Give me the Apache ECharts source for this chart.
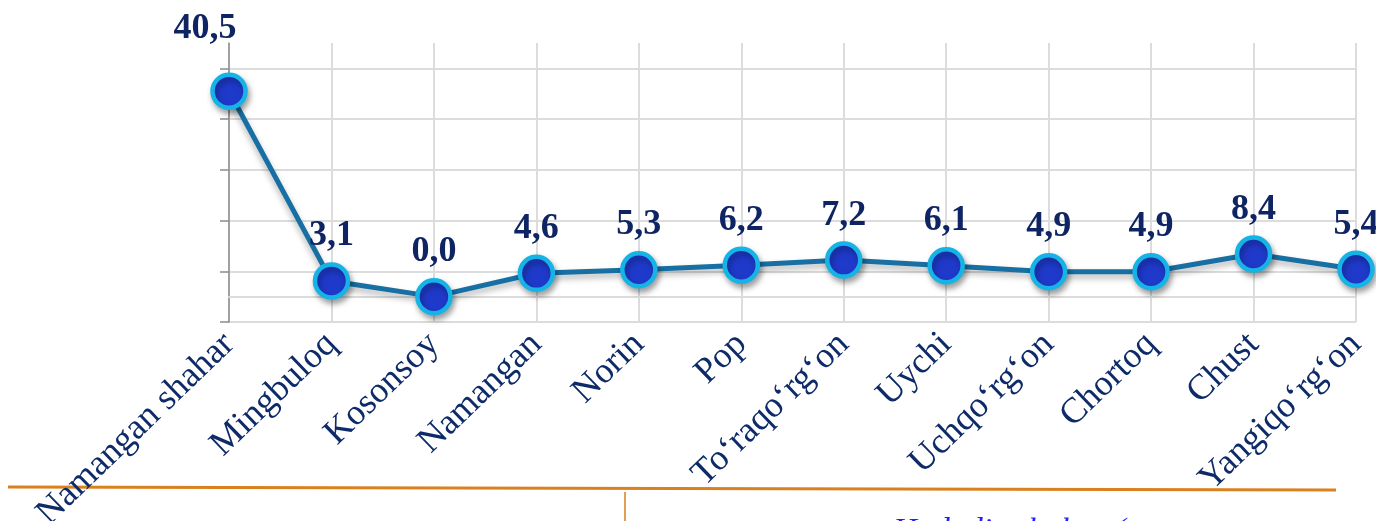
<!DOCTYPE html>
<html>
<head>
<meta charset="utf-8">
<script src="https://cdn.jsdelivr.net/npm/echarts@6/dist/echarts.min.js"></script>
<style>
html,body{margin:0;padding:0;background:#fff;}
#chart{width:1376px;height:521px;}
</style>
</head>
<body>
<div id="chart"></div>
<script>
const categories = ['Namangan shahar','Mingbuloq','Kosonsoy','Namangan','Norin','Pop','To\u2018raqo\u2018rg\u2018on','Uychi','Uchqo\u2018rg\u2018on','Chortoq','Chust','Yangiqo\u2018rg\u2018on'];
const values = [40.5, 3.1, 0.0, 4.6, 5.3, 6.2, 7.2, 6.1, 4.9, 4.9, 8.4, 5.4];
const yTicks = [-5, 5, 15, 25, 35, 45];

const chart = echarts.init(document.getElementById('chart'));
const fmt = v => v.toFixed(1).replace('.', ',');
const seriesData = values.map((v, i) => {
  const d = { value: v };
  if (i === 0) d.label = { offset: [-24, -18] };
  return d;
});

chart.setOption({
  animation: false,
  grid: { left: 229, right: 20, top: 43, bottom: 199, containLabel: false, outerBoundsMode: 'none' },
  xAxis: {
    type: 'category',
    data: categories,
    boundaryGap: false,
    axisLine: { show: true, lineStyle: { color: '#d9d9d9', width: 2 } },
    axisTick: { show: false },
    splitLine: { show: true, lineStyle: { color: '#dcdcdc', width: 2 } },
    axisLabel: {
      rotate: 44,
      interval: 0,
      margin: 17,
      fontFamily: 'Liberation Serif',
      fontSize: 36,
      color: '#0e2b69'
    }
  },
  yAxis: {
    type: 'value',
    min: -5,
    max: 50,
    axisLine: { show: true, lineStyle: { color: '#8c8c8c', width: 1.5 } },
    axisTick: { show: true, inside: false, length: 9, customValues: yTicks, lineStyle: { color: '#8c8c8c', width: 1.5 } },
    axisLabel: { show: false, customValues: yTicks },
    splitLine: { show: true, lineStyle: { color: '#dcdcdc', width: 2 } }
  },
  series: [{
    type: 'line',
    data: seriesData,
    symbol: 'circle',
    symbolSize: 33,
    lineStyle: { color: '#176fa3', width: 5, shadowBlur: 6, shadowColor: 'rgba(0,0,0,0.3)', shadowOffsetY: 4 },
    itemStyle: { color: '#1f3acb', borderColor: '#16b4e6', borderWidth: 4.5, shadowBlur: 6, shadowColor: 'rgba(0,0,0,0.35)', shadowOffsetX: 2, shadowOffsetY: 4 },
    label: {
      show: true,
      position: 'top',
      distance: 8,
      formatter: p => fmt(p.value),
      fontFamily: 'Liberation Serif',
      fontWeight: 'bold',
      fontSize: 36,
      color: '#0f2463'
    },
    markLine: {
      silent: true,
      symbol: 'none',
      label: { show: false },
      lineStyle: { color: '#dcdcdc', width: 2, type: 'solid' },
      data: [{ yAxis: 0 }],
      z: 1
    },
    z: 5
  }],
  graphic: [
    { type: 'line', shape: { x1: 8, y1: 487, x2: 1336, y2: 490 }, style: { stroke: '#d9801f', lineWidth: 3 } },
    { type: 'line', shape: { x1: 625, y1: 492, x2: 625, y2: 521 }, style: { stroke: '#d9801f', lineWidth: 1.5 } },
    { type: 'text', left: 893, top: 516, style: { text: 'Hududiy shahar (', font: 'italic 33px "Liberation Serif"', fill: '#1f1fff' } }
  ]
});
</script>
</body>
</html>
